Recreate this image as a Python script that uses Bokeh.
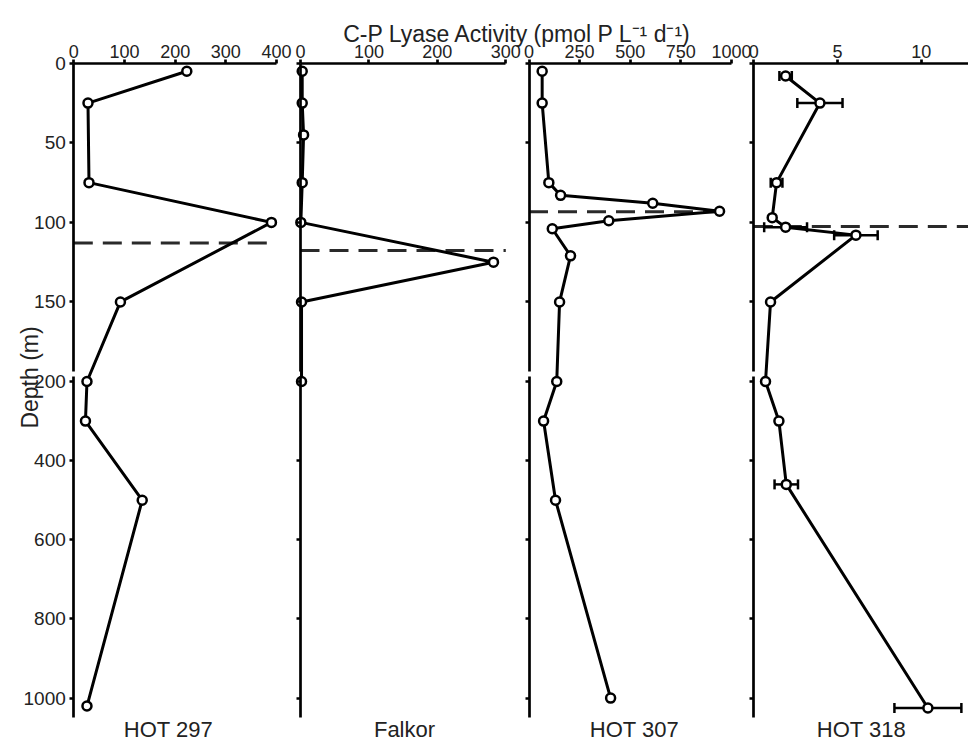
import math
from bokeh.plotting import figure
from bokeh.models import Range1d, LinearAxis, FixedTicker, Label
from bokeh.embed import file_html
from bokeh.resources import INLINE

# ---------------- data ----------------
stations = ["HOT 297", "Falkor", "HOT 307", "HOT 318"]

hot297_depth = [5, 25, 75, 100, 150, 200, 300, 500, 1020]
hot297_rate = [223, 28, 30, 390, 92, 26, 23, 135, 26]

falkor_depth = [5, 25, 45, 75, 100, 125, 150, 200]
falkor_rate = [2.5, 2.5, 4.5, 2.5, 0.5, 282, 1.5, 1.5]

hot307_depth = [5, 25, 75, 83, 88, 93, 99, 104, 121, 150, 200, 300, 500, 1000]
hot307_rate = [65, 65, 98, 156, 611, 941, 394, 115, 205, 151, 137, 72, 131, 403]

hot318_depth = [8, 25, 75, 97, 103, 108, 150, 200, 300, 460, 1025]
hot318_rate = [1.9, 3.95, 1.36, 1.1, 1.9, 6.1, 1.0, 0.7, 1.5, 1.94, 10.4]
hot318_err = [0.37, 1.35, 0.35, 0.0, 1.28, 1.3, 0.0, 0.0, 0.0, 0.7, 2.0]

# dashed reference depth in each profile (m)
dashed_depth = [113, 117.6, 93.3, 102.6]

x_ticks = [[0, 100, 200, 300, 400], [0, 100, 200, 300], [0, 250, 500, 750, 1000], [0, 5, 10]]
axis_extent = [400, 300, 1000, 13]
upper_ticks = [0, 50, 100, 150]
lower_ticks = [200, 400, 600, 800, 1000]

series = [
    (hot297_depth, hot297_rate, None),
    (falkor_depth, falkor_rate, None),
    (hot307_depth, hot307_rate, None),
    (hot318_depth, hot318_rate, hot318_err),
]

# ---------------- layout (page pixels) ----------------
W, H = 968, 742
PX0, PX1 = 0, W
PY0, PY1 = 0, H

# pixel position of value 0 and of a reference value for each panel
panel_px = [(73.3, 276.0), (300.0, 505.3), (528.5, 731.0), (753.3, 920.7)]
panel_ref = [400, 300, 1000, 10]


def lin_range(v0, p0, v1, p1, lo_px, hi_px):
    k = (p1 - p0) / (v1 - v0)
    return Range1d(start=v0 + (lo_px - p0) / k, end=v0 + (hi_px - p0) / k)


p = figure(
    width=W, height=H,
    x_range=Range1d(PX0, PX1), y_range=Range1d(PY1, PY0),
    x_axis_location=None, y_axis_location=None,
    min_border=0, min_border_left=0, min_border_right=0, min_border_top=0, min_border_bottom=0,
    outline_line_color=None, toolbar_location=None, output_backend="svg",
    background_fill_color="white", border_fill_color="white",
)
p.grid.visible = False

p.extra_y_ranges = {
    "up": lin_range(0, 62.8, 200, 381.0, PY1, PY0),
    "lo": lin_range(200, 381.0, 1000, 697.6, PY1, PY0),
}
p.extra_x_ranges = {
    f"x{i}": lin_range(0, a, panel_ref[i], b, PX0, PX1) for i, (a, b) in enumerate(panel_px)
}

FONT = "Liberation Sans"
TXT = "#222222"
AX_W = 2.7

def style_axis(ax, show_labels, size):
    ax.axis_line_width = AX_W
    ax.axis_line_color = "black"
    ax.major_tick_line_width = AX_W
    ax.major_tick_line_color = "black"
    ax.major_tick_out = 4
    ax.major_tick_in = 0
    ax.minor_tick_out = 0
    ax.minor_tick_in = 0
    ax.minor_tick_line_color = None
    ax.major_label_text_font = FONT
    ax.major_label_text_font_size = size
    ax.major_label_text_color = TXT if show_labels else None


for i in range(4):
    xr = f"x{i}"
    top = LinearAxis(x_range_name=xr, y_range_name="up", fixed_location=0,
                     bounds=(0, axis_extent[i]), ticker=FixedTicker(ticks=x_ticks[i]))
    style_axis(top, True, "18px")
    top.major_label_standoff = 1
    p.add_layout(top, "above")

    lu = LinearAxis(x_range_name=xr, y_range_name="up", fixed_location=0,
                    bounds=(0, 193.5), ticker=FixedTicker(ticks=upper_ticks))
    style_axis(lu, i == 0, "19px")
    lu.major_label_standoff = 4
    p.add_layout(lu, "left")

    ll = LinearAxis(x_range_name=xr, y_range_name="lo", fixed_location=0,
                    bounds=(187, 1048), ticker=FixedTicker(ticks=lower_ticks))
    style_axis(ll, i == 0, "19px")
    ll.major_label_standoff = 4
    p.add_layout(ll, "left")

# dashed depth lines
for i in range(4):
    p.segment(x0=[0], x1=[axis_extent[i]], y0=[dashed_depth[i]], y1=[dashed_depth[i]],
              x_range_name=f"x{i}", y_range_name="up",
              line_color="#2a2a2a", line_width=3, line_dash="19 10")

# profiles
for i, (d, v, e) in enumerate(series):
    xr = f"x{i}"
    up_d = [dd for dd in d if dd <= 200]
    up_v = [vv for dd, vv in zip(d, v) if dd <= 200]
    lo_d = [dd for dd in d if dd >= 200]
    lo_v = [vv for dd, vv in zip(d, v) if dd >= 200]
    p.line(up_v, up_d, x_range_name=xr, y_range_name="up", line_color="black", line_width=3)
    if len(lo_d) > 1:
        p.line(lo_v, lo_d, x_range_name=xr, y_range_name="lo", line_color="black", line_width=3)
    if e is not None:
        for rng, keep in (("up", lambda dd: dd < 200), ("lo", lambda dd: dd >= 200)):
            ed = [dd for dd, ee in zip(d, e) if keep(dd) and ee > 0]
            lo_x = [vv - ee for dd, vv, ee in zip(d, v, e) if keep(dd) and ee > 0]
            hi_x = [vv + ee for dd, vv, ee in zip(d, v, e) if keep(dd) and ee > 0]
            if ed:
                p.segment(x0=lo_x, x1=hi_x, y0=ed, y1=ed, x_range_name=xr, y_range_name=rng,
                          line_color="black", line_width=2.5)
                p.scatter(lo_x + hi_x, ed + ed, marker="dash", angle=math.pi / 2, size=10,
                          line_color="black", line_width=2.5, x_range_name=xr, y_range_name=rng)
    md_u = [dd for dd in d if dd < 200]
    mv_u = [vv for dd, vv in zip(d, v) if dd < 200]
    p.scatter(mv_u, md_u, marker="circle", size=9, fill_color="white", line_color="black",
              line_width=2.5, x_range_name=xr, y_range_name="up")
    p.scatter(lo_v, lo_d, marker="circle", size=9, fill_color="white", line_color="black",
              line_width=2.5, x_range_name=xr, y_range_name="lo")

# texts
p.add_layout(Label(x=517, y=33, text="C-P Lyase Activity (pmol P L\u207b\u00b9 d\u207b\u00b9)",
                   text_align="center", text_baseline="alphabetic",
                   text_font=FONT, text_font_size="23px", text_color=TXT))
p.add_layout(Label(x=29.5, y=377, text="Depth (m)", angle=math.pi / 2,
                   text_align="center", text_baseline="alphabetic",
                   text_font=FONT, text_font_size="23px", text_color=TXT))
label_x = [168, 404, 634, 861]
for name, lx in zip(stations, label_x):
    p.add_layout(Label(x=lx, y=729, text=name, text_align="center", text_baseline="alphabetic",
                       text_font=FONT, text_font_size="22px", text_color=TXT))

open("out.html", "w").write(file_html(p, INLINE))
